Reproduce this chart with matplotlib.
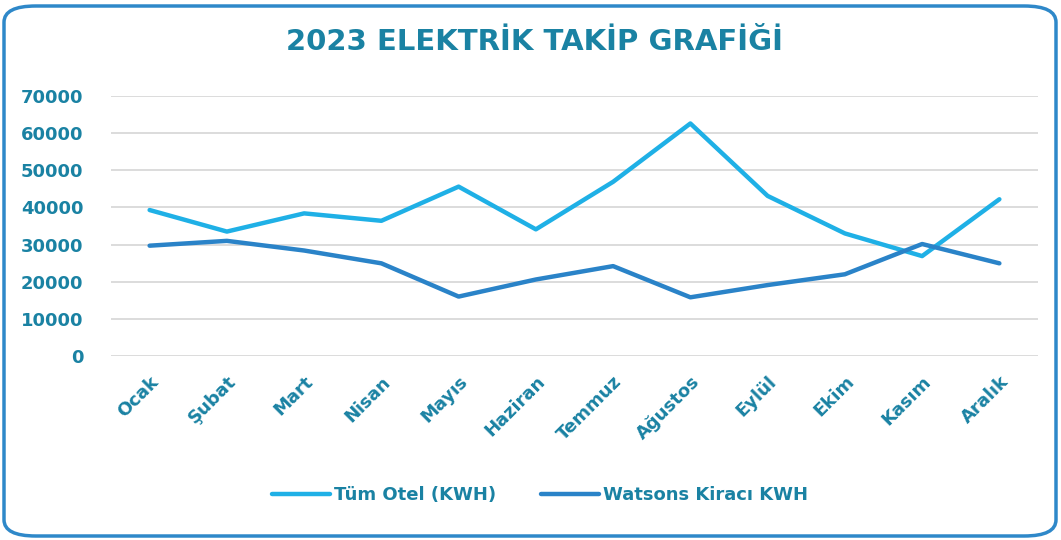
import matplotlib.pyplot as plt
from matplotlib.patches import FancyBboxPatch

# Monthly electricity usage (kWh)
months = ["Ocak", "Şubat", "Mart", "Nisan", "Mayıs", "Haziran",
          "Temmuz", "Ağustos", "Eylül", "Ekim", "Kasım", "Aralık"]
tum_otel = [39300, 33500, 38400, 36400, 45600, 34100,
            46900, 62600, 43100, 33000, 26900, 42200]
watsons = [29700, 31000, 28400, 24950, 16000, 20600,
           24200, 15800, 19100, 22000, 30150, 24950]

TEXT_COLOR = "#1a82a3"
LIGHT_BLUE = "#1fb0e6"
DARK_BLUE = "#2a83c8"

plt.rcParams["font.family"] = ["DejaVu Sans"]

fig = plt.figure(figsize=(10.61, 5.40), dpi=100)

# rounded frame around the whole chart
frame = FancyBboxPatch((4 / 1061, 4 / 540), 1052 / 1061, 530 / 540,
                       boxstyle="round,pad=0,rounding_size=0.03",
                       transform=fig.transFigure, facecolor="none",
                       edgecolor="#2e88c9", linewidth=2.5, zorder=5)
fig.patches.append(frame)

ax = fig.add_axes([111 / 1061, 184 / 540, 927 / 1061, 260 / 540])
ax.set_facecolor("none")

x = range(len(months))
ax.plot(x, tum_otel, color=LIGHT_BLUE, linewidth=3.2,
        solid_capstyle="round", solid_joinstyle="round", label="Tüm Otel (KWH)")
ax.plot(x, watsons, color=DARK_BLUE, linewidth=3.2,
        solid_capstyle="round", solid_joinstyle="round", label="Watsons Kiracı KWH")

ax.set_xlim(-0.5, len(months) - 0.5)
ax.set_ylim(0, 70000)
ax.set_yticks(range(0, 70001, 10000))
ax.grid(axis="y", color="#d9d9d9", linewidth=1.3)
ax.set_axisbelow(True)
for s in ax.spines.values():
    s.set_visible(False)
ax.tick_params(length=0, colors=TEXT_COLOR)
ax.tick_params(axis="y", pad=20)
ax.tick_params(axis="x", pad=12)

ax.set_xticks(list(x))
ax.set_xticklabels(months, rotation=45, ha="right", rotation_mode="anchor",
                   fontsize=13, fontweight="bold", color=TEXT_COLOR)
for lbl in ax.get_yticklabels():
    lbl.set_fontsize(13)
    lbl.set_fontweight("bold")
    lbl.set_color(TEXT_COLOR)

fig.text(535 / 1061, 1 - 42 / 540, "2023 ELEKTRİK TAKİP GRAFİĞİ",
         ha="center", va="center", fontsize=21, fontweight="bold",
         color=TEXT_COLOR)

leg = fig.legend(loc="center", bbox_to_anchor=(540 / 1061, 1 - 495 / 540),
                 ncol=2, frameon=False, handlelength=3.2, handletextpad=0.2,
                 columnspacing=2.5, prop={"weight": "bold", "size": 13})
for t in leg.get_texts():
    t.set_color(TEXT_COLOR)

fig.savefig("out.png", dpi=100)
